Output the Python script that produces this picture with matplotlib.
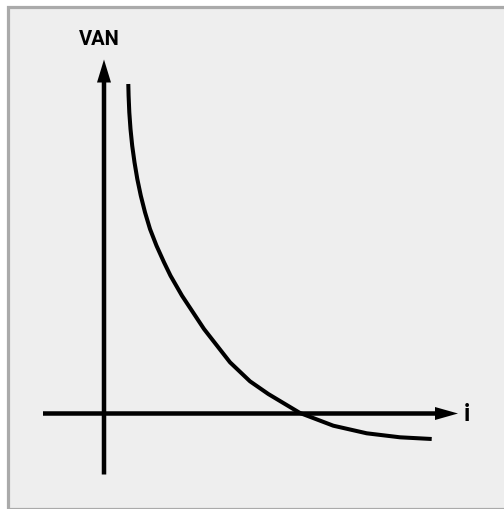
import matplotlib.pyplot as plt
from matplotlib.patches import Rectangle

# VAN curve (arbitrary units, origin where the axes cross)
i_vals = [24.3, 24.6, 25.3, 26.5, 28.2, 30.5, 33.3, 36.8, 41, 46, 52.5, 60,
          66.5, 78, 100, 126, 146, 164.3, 196, 229.3, 262.7, 296, 327.7]
van_vals = [329.5, 317.8, 301.2, 284.5, 267.8, 251.2, 234.5, 217.8, 201.2,
            184.5, 167.8, 151.2, 137.8, 117.8, 84.5, 51.2, 32.2, 19.5, 0.5,
            -12.2, -19.8, -23.8, -25.5]

# axis extents
axis_min = -61
axis_max = 354

fig = plt.figure(figsize=(5.04, 5.10), dpi=100, facecolor='white')
ax = fig.add_axes([0, 0, 1, 1])
ax.set_xlim(-104, 400)
ax.set_ylim(-95.5, 414.5)
ax.axis('off')

# framed panel, drawn behind the axes
fig.patches.append(Rectangle((8 / 504, 1 - 509.5 / 510), 500 / 504, 501.5 / 510,
                             transform=fig.transFigure, facecolor='#eeeeee',
                             edgecolor='#aaaaaa', linewidth=2.3, zorder=-1))

# axes with arrow heads
ax.arrow(0, axis_min, 0, axis_max - axis_min, width=4.5, head_width=14,
         head_length=23, length_includes_head=True, fc='black', ec='none')
ax.arrow(axis_min, 0, axis_max - axis_min, 0, width=4.5, head_width=13,
         head_length=23, length_includes_head=True, fc='black', ec='none')

ax.plot(i_vals, van_vals, color='black', linewidth=2.9,
        solid_joinstyle='round', solid_capstyle='butt')

ax.text(-4.5, 374.8, 'VAN', ha='center', va='center', fontsize=14.5,
        fontweight='bold', family=['Roboto', 'DejaVu Sans'])
ax.text(363, -6.5, 'i', ha='center', va='baseline', fontsize=17,
        fontweight='bold', family=['Roboto', 'DejaVu Sans'])

fig.savefig('out.png', dpi=100, facecolor='white')
